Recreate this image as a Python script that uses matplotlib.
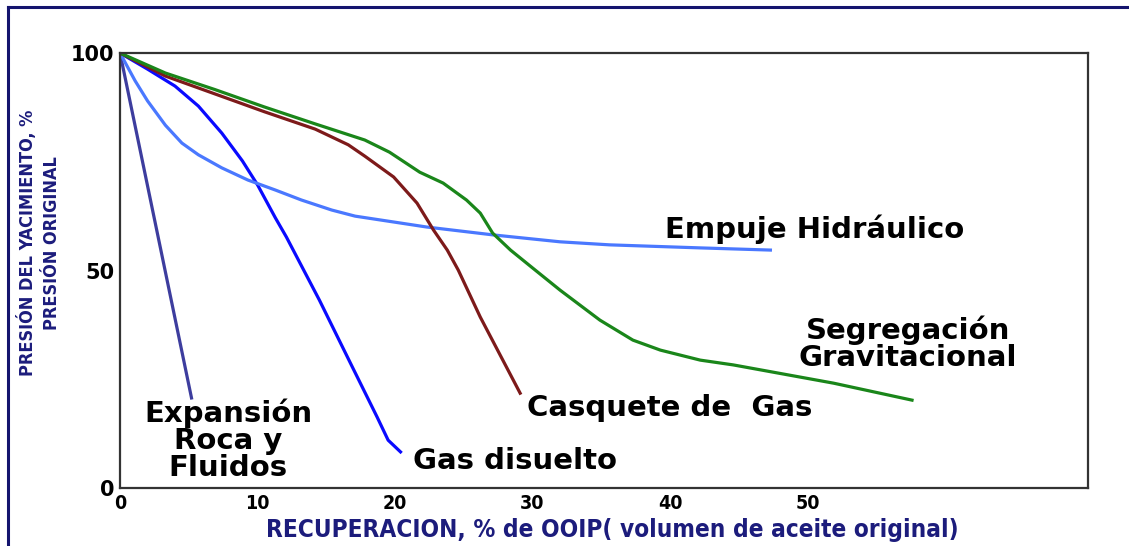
import matplotlib.pyplot as plt
from matplotlib.lines import Line2D

# recovery (% OOIP) and pressure (% of original)
expansion_x = [0, 5.2]
expansion_y = [100, 20.7]

gas_disuelto_x = [0, 2.0, 4.0, 5.7, 7.4, 8.9, 10.0, 11.3, 12.1, 14.5, 16.9, 18.7, 19.5, 20.4]
gas_disuelto_y = [100, 96.3, 92.4, 87.8, 81.6, 75.2, 69.7, 62.1, 57.7, 43.2, 27.8, 16.3, 11.0, 8.3]

empuje_x = [0, 1.1, 2.0, 3.3, 4.5, 5.7, 7.4, 9.3, 11.3, 13.2, 15.4, 17.1, 22.3, 27.1, 32.0,
            35.6, 42.2, 47.3]
empuje_y = [100, 93.6, 89.0, 83.4, 79.3, 76.6, 73.6, 70.8, 68.5, 66.2, 63.9, 62.5, 60.0, 58.2,
            56.6, 55.9, 55.2, 54.7]

casquete_x = [0, 3.3, 6.9, 10.5, 14.2, 16.6, 17.8, 19.9, 21.6, 22.8, 23.8, 24.6, 26.2, 29.1]
casquete_y = [100, 94.7, 90.6, 86.5, 82.5, 78.9, 76.3, 71.5, 65.5, 59.3, 54.7, 50.1, 39.3, 21.8]

segregacion_x = [0, 3.3, 6.9, 10.5, 14.2, 17.8, 19.6, 21.8, 23.5, 25.2, 26.2, 27.1, 28.4, 30.0,
                 32.0, 34.9, 37.3, 39.3, 42.2, 44.6, 51.9, 57.6]
segregacion_y = [100, 95.4, 91.6, 87.6, 83.7, 80.0, 77.2, 72.6, 70.1, 66.2, 63.2, 58.6, 54.7, 50.6,
                 45.5, 38.6, 34.0, 31.7, 29.4, 28.3, 24.1, 20.2]

x_ticks = [0, 10, 20, 30, 40, 50]
y_ticks = [0, 50, 100]

narrow = ['DejaVu Sans', 'Liberation Sans Narrow']
navy = '#1c1c7c'

fig = plt.figure(figsize=(11.29, 5.46), dpi=100)
ax = fig.add_axes([0.1063, 0.1062, 0.8574, 0.7967])

lw = 2.3
ax.plot(expansion_x, expansion_y, color='#3d3d9e', lw=lw)
ax.plot(gas_disuelto_x, gas_disuelto_y, color='#0a0aff', lw=lw)
ax.plot(empuje_x, empuje_y, color='#4a78ff', lw=lw)
ax.plot(casquete_x, casquete_y, color='#7d1a1a', lw=lw)
ax.plot(segregacion_x, segregacion_y, color='#1a861a', lw=lw)

ax.set_xlim(0, 70.4)
ax.set_ylim(0, 100)
ax.set_xticks(x_ticks)
ax.set_xticklabels([str(v) for v in x_ticks], family=narrow, fontstretch='condensed',
                   fontweight='bold', fontsize=14)
ax.set_yticks(y_ticks)
ax.set_yticklabels([str(v) for v in y_ticks], fontweight='bold', fontsize=15)
ax.tick_params(length=0, pad=4)
for s in ax.spines.values():
    s.set_color('#333333')
    s.set_linewidth(1.6)

tkw = dict(fontsize=21, fontweight='bold', color='black')
ax.text(39.6, 59.5, 'Empuje Hidráulico', ha='left', va='center', **tkw)
ax.text(57.3, 33.2, 'Segregación\nGravitacional', ha='center', va='center', linespacing=0.95, **tkw)
ax.text(29.6, 18.4, 'Casquete de  Gas', ha='left', va='center', **tkw)
ax.text(21.3, 6.2, 'Gas disuelto', ha='left', va='center', **tkw)
ax.text(7.85, 11.0, 'Expansión\nRoca y\nFluidos', ha='center', va='center', linespacing=0.95, **tkw)

lab = dict(family=narrow, fontstretch='condensed', fontweight='bold', color=navy)
fig.text(0.5425, 0.03, 'RECUPERACION, % de OOIP( volumen de aceite original)', ha='center',
         va='center', fontsize=17.5, **lab)
fig.text(0.024, 0.555, 'PRESIÓN DEL YACIMIENTO, %', rotation=90, ha='center', va='center',
         fontsize=13, **lab)
fig.text(0.046, 0.555, 'PRESIÓN ORIGINAL', rotation=90, ha='center', va='center',
         fontsize=13, **lab)

# outer frame (top and left edges)
fig.add_artist(Line2D([0.0075, 1.0], [0.987, 0.987], transform=fig.transFigure, color='#14146e', lw=2.2))
fig.add_artist(Line2D([0.0075, 0.0075], [0.0, 0.987], transform=fig.transFigure, color='#14146e', lw=2.2))

fig.savefig('out.png', dpi=100)
